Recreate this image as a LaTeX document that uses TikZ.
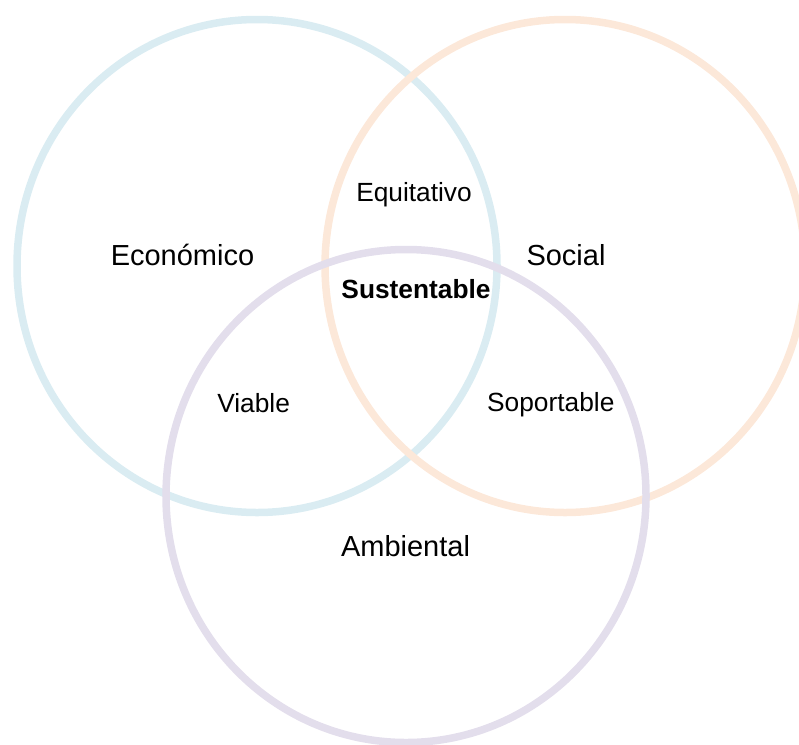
\documentclass[tikz,border=0pt]{standalone}
\usepackage{fontspec}
\setmainfont{Liberation Sans}
\definecolor{ecoblue}{RGB}{218,236,242}
\definecolor{socpeach}{RGB}{252,232,217}
\definecolor{ambilac}{RGB}{227,222,236}
\tikzset{
  ring/.style={line width=7.5pt},
  biglabel/.style={anchor=base, inner sep=0pt, font=\fontsize{29}{34}\selectfont},
  smalllabel/.style={anchor=base, inner sep=0pt, font=\fontsize{26.3}{31}\selectfont}
}
\begin{document}
\begin{tikzpicture}[x=1pt, y=-1pt]
  \useasboundingbox (0,0) rectangle (799,744);
  % the three rings
  \draw[ring, ecoblue] (257,266) ellipse [x radius=240, y radius=246.5];
  \draw[ring, socpeach] (565,266) ellipse [x radius=240, y radius=246.5];
  \draw[ring, ambilac] (406,496) ellipse [x radius=240, y radius=246.5];
  % ring names
  \node[biglabel] (economico) at (182.5,265) {Económico};
  \node[biglabel] (social) at (566,265) {Social};
  \node[biglabel] (ambiental) at (405.5,556) {Ambiental};
  % overlaps
  \node[smalllabel] (equitativo) at (414,201.7) {Equitativo};
  \node[smalllabel, font=\fontsize{26.3}{31}\selectfont\bfseries] (sustentable) at (416,298.3) {Sustentable};
  \node[smalllabel] (viable) at (253.6,412.3) {Viable};
  \node[smalllabel] (soportable) at (550.8,411.7) {Soportable};
\end{tikzpicture}
\end{document}
